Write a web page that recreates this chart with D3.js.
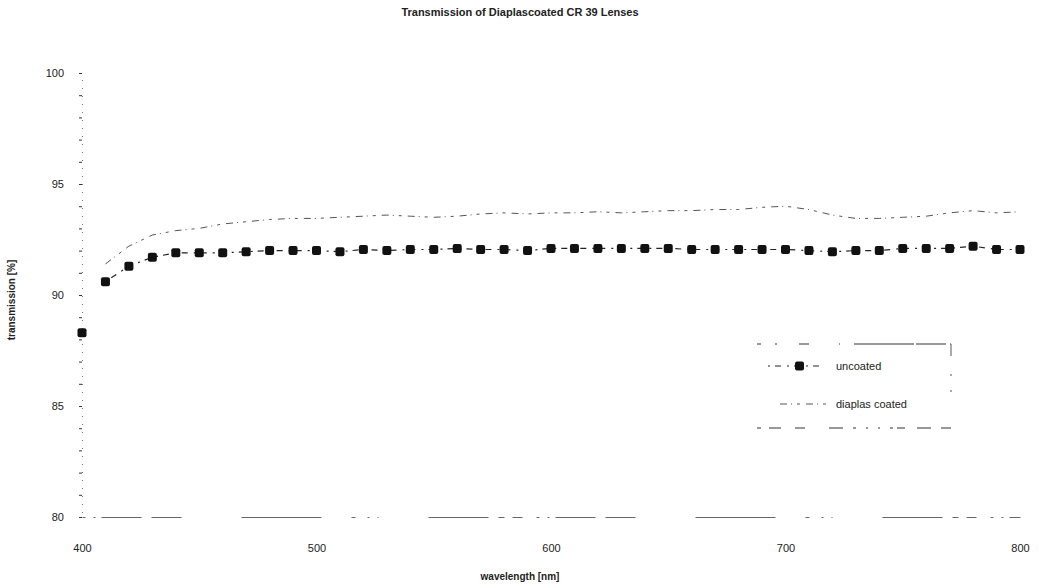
<!DOCTYPE html>
<html><head><meta charset="utf-8">
<script src="https://cdn.jsdelivr.net/npm/d3@7"></script>
<style>body{margin:0;background:#fff}svg{display:block}text{font-family:"Liberation Sans",Arial,sans-serif;fill:#222}</style>
</head><body>
<script>
const wavelengths = [400,410,420,430,440,450,460,470,480,490,500,510,520,530,540,550,560,570,580,590,600,610,620,630,640,650,660,670,680,690,700,710,720,730,740,750,760,770,780,790,800];
const uncoated = [88.3,90.6,91.3,91.7,91.9,91.9,91.9,91.95,92.0,92.0,92.0,91.95,92.05,92.0,92.05,92.05,92.1,92.05,92.05,92.0,92.1,92.1,92.1,92.1,92.1,92.1,92.05,92.05,92.05,92.05,92.05,92.0,91.95,92.0,92.0,92.1,92.1,92.1,92.2,92.05,92.05];
const coatedWl = [410,420,430,440,450,460,470,480,490,500,510,520,530,540,550,560,570,580,590,600,610,620,630,640,650,660,670,680,690,700,710,720,730,740,750,760,770,780,790,800];
const coated = [91.4,92.2,92.7,92.9,93.0,93.2,93.3,93.4,93.45,93.45,93.5,93.55,93.6,93.55,93.5,93.55,93.65,93.7,93.65,93.7,93.7,93.75,93.7,93.75,93.8,93.8,93.85,93.85,93.95,94.0,93.85,93.6,93.45,93.45,93.5,93.55,93.7,93.8,93.7,93.75];
const xTicks = [400,500,600,700,800];
const yTicks = [80,85,90,95,100];
const yMinor = d3.range(80,101,1);
const legendLabels = ["uncoated","diaplas coated"];

const W=1039,H=588;
const svg=d3.select("body").append("svg").attr("width",W).attr("height",H);
const x=d3.scaleLinear().domain([400,800]).range([82,1020]);
const y=d3.scaleLinear().domain([80,100]).range([517,73]);

svg.append("text").attr("x",520).attr("y",16).attr("text-anchor","middle")
  .attr("font-size",11).attr("font-weight","bold").text("Transmission of Diaplascoated CR 39 Lenses");

// y axis (dotted)
const ya=svg.append("g").attr("transform","translate(82,0)")
  .call(d3.axisLeft(y).tickValues(yMinor).tickSize(3).tickFormat(""));
ya.select(".domain").attr("stroke","#777").attr("stroke-dasharray","1,7");
ya.selectAll(".tick line").attr("stroke","#333");
svg.append("g").selectAll("text").data(yTicks).join("text")
  .attr("x",64).attr("y",d=>y(d)+4).attr("text-anchor","end").attr("font-size",11).text(d=>d);

// x axis broken baseline
const xa=svg.append("g").attr("transform",`translate(0,${y(80)})`)
  .call(d3.axisBottom(x).tickValues(xTicks).tickSize(0).tickPadding(27).tickFormat(d3.format("d")));
xa.select(".domain").attr("stroke","#666").attr("stroke-dasharray","3,8,2,6,40,10,30,60,80,30,4,12,2,8,1,50,60,10,6,8,10,14");
xa.selectAll("text").attr("font-size",11).attr("fill","#222");

svg.append("text").attr("x",520).attr("y",580).attr("text-anchor","middle").attr("font-size",10).attr("font-weight","bold").text("wavelength [nm]");
svg.append("text").attr("transform","translate(15,300) rotate(-90)").attr("text-anchor","middle").attr("font-size",10).attr("font-weight","bold").text("transmission [%]");

const line=d3.line().x(d=>x(d[0])).y(d=>y(d[1]));
// coated
svg.append("path").datum(coatedWl.map((w,i)=>[w,coated[i]]))
  .attr("d",line).attr("fill","none").attr("stroke","#555").attr("stroke-width",1)
  .attr("stroke-dasharray","7,4,1,5,3,6");
// uncoated (line drawn from 410 on; the 400 point stands alone)
const ud=wavelengths.map((w,i)=>[w,uncoated[i]]);
svg.append("path").datum(ud.slice(1)).attr("d",line).attr("fill","none").attr("stroke","#222").attr("stroke-width",1.2).attr("stroke-dasharray","2,5,6,6");
svg.append("g").selectAll("rect").data(ud).join("rect")
  .attr("x",d=>x(d[0])-4.5).attr("y",d=>y(d[1])-4.5).attr("width",9).attr("height",9).attr("rx",2).attr("fill","#111");

// legend
const lg=svg.append("g");
lg.append("line").attr("x1",757).attr("x2",951).attr("y1",344).attr("y2",344).attr("stroke","#333").attr("stroke-dasharray","4,14,2,22,10,30,1,14,60,2,30");
lg.append("line").attr("x1",951).attr("x2",951).attr("y1",344).attr("y2",395).attr("stroke","#555").attr("stroke-dasharray","12,18,2,14,2");
lg.append("line").attr("x1",757).attr("x2",951).attr("y1",428).attr("y2",428).attr("stroke","#333").attr("stroke-dasharray","4,8,12,14,10,24,14,10,3,10,2,10,2,10,3");
lg.append("line").attr("x1",768).attr("x2",822).attr("y1",366).attr("y2",366).attr("stroke","#222").attr("stroke-dasharray","2,5,6,6");
lg.append("rect").attr("x",795).attr("y",361.5).attr("width",9).attr("height",9).attr("rx",2).attr("fill","#111");
lg.append("line").attr("x1",780).attr("x2",826).attr("y1",404).attr("y2",404).attr("stroke","#555").attr("stroke-dasharray","7,4,1,5,3,6");
lg.selectAll("text.l").data(legendLabels).join("text").attr("class","l")
  .attr("x",836).attr("y",(d,i)=>370+i*38).attr("font-size",11).text(d=>d);
</script>
</body></html>
